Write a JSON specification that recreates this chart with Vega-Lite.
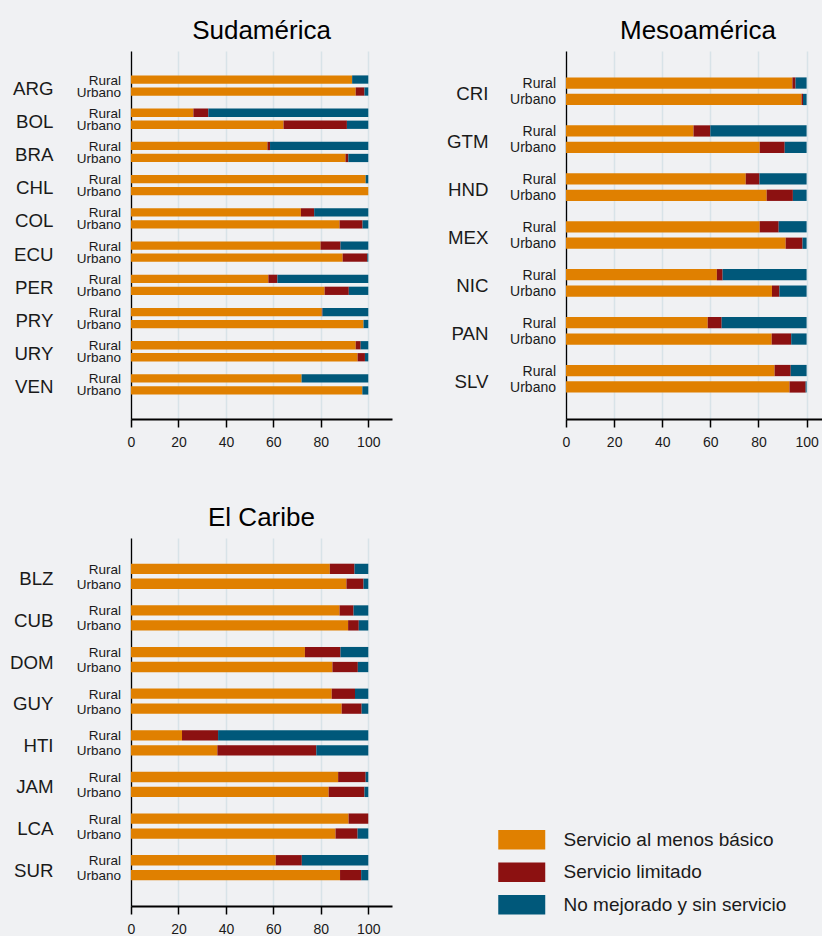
{
  "$schema": "https://vega.github.io/schema/vega-lite/v6.json",
  "background": "#f0f1f3",
  "padding": {"left": 9, "top": 18, "right": 0, "bottom": 0},
  "datasets": {
    "d": [
      {"r": "S", "p": "ARG", "a": "Rural", "b": 93.2, "l": 0, "n": 6.8},
      {"r": "S", "p": "ARG", "a": "Urbano", "b": 94.7, "l": 3.7, "n": 1.6},
      {"r": "S", "p": "BOL", "a": "Rural", "b": 26.3, "l": 6.3, "n": 67.4},
      {"r": "S", "p": "BOL", "a": "Urbano", "b": 64.3, "l": 26.7, "n": 9.0},
      {"r": "S", "p": "BRA", "a": "Rural", "b": 57.5, "l": 1.1, "n": 41.4},
      {"r": "S", "p": "BRA", "a": "Urbano", "b": 90.4, "l": 1.2, "n": 8.4},
      {"r": "S", "p": "CHL", "a": "Rural", "b": 98.9, "l": 0, "n": 1.1},
      {"r": "S", "p": "CHL", "a": "Urbano", "b": 100, "l": 0, "n": 0},
      {"r": "S", "p": "COL", "a": "Rural", "b": 71.6, "l": 5.6, "n": 22.8},
      {"r": "S", "p": "COL", "a": "Urbano", "b": 87.9, "l": 9.7, "n": 2.4},
      {"r": "S", "p": "ECU", "a": "Rural", "b": 79.9, "l": 8.4, "n": 11.7},
      {"r": "S", "p": "ECU", "a": "Urbano", "b": 89.2, "l": 10.4, "n": 0.4},
      {"r": "S", "p": "PER", "a": "Rural", "b": 57.9, "l": 3.8, "n": 38.3},
      {"r": "S", "p": "PER", "a": "Urbano", "b": 81.6, "l": 10.2, "n": 8.2},
      {"r": "S", "p": "PRY", "a": "Rural", "b": 80.4, "l": 0.3, "n": 19.3},
      {"r": "S", "p": "PRY", "a": "Urbano", "b": 98.0, "l": 0, "n": 2.0},
      {"r": "S", "p": "URY", "a": "Rural", "b": 94.7, "l": 2.1, "n": 3.2},
      {"r": "S", "p": "URY", "a": "Urbano", "b": 95.5, "l": 3.1, "n": 1.4},
      {"r": "S", "p": "VEN", "a": "Rural", "b": 71.9, "l": 0, "n": 28.1},
      {"r": "S", "p": "VEN", "a": "Urbano", "b": 97.5, "l": 0, "n": 2.5},
      {"r": "M", "p": "CRI", "a": "Rural", "b": 94.1, "l": 1.3, "n": 4.6},
      {"r": "M", "p": "CRI", "a": "Urbano", "b": 97.9, "l": 0.6, "n": 1.5},
      {"r": "M", "p": "GTM", "a": "Rural", "b": 53.0, "l": 7.0, "n": 40.0},
      {"r": "M", "p": "GTM", "a": "Urbano", "b": 80.5, "l": 10.4, "n": 9.1},
      {"r": "M", "p": "HND", "a": "Rural", "b": 74.7, "l": 5.7, "n": 19.6},
      {"r": "M", "p": "HND", "a": "Urbano", "b": 83.4, "l": 10.9, "n": 5.7},
      {"r": "M", "p": "MEX", "a": "Rural", "b": 80.5, "l": 7.9, "n": 11.6},
      {"r": "M", "p": "MEX", "a": "Urbano", "b": 91.3, "l": 7.0, "n": 1.7},
      {"r": "M", "p": "NIC", "a": "Rural", "b": 62.7, "l": 2.4, "n": 34.9},
      {"r": "M", "p": "NIC", "a": "Urbano", "b": 85.6, "l": 3.1, "n": 11.3},
      {"r": "M", "p": "PAN", "a": "Rural", "b": 58.9, "l": 5.8, "n": 35.3},
      {"r": "M", "p": "PAN", "a": "Urbano", "b": 85.5, "l": 8.1, "n": 6.4},
      {"r": "M", "p": "SLV", "a": "Rural", "b": 86.7, "l": 6.7, "n": 6.6},
      {"r": "M", "p": "SLV", "a": "Urbano", "b": 92.9, "l": 6.7, "n": 0.4},
      {"r": "C", "p": "BLZ", "a": "Rural", "b": 83.8, "l": 10.4, "n": 5.8},
      {"r": "C", "p": "BLZ", "a": "Urbano", "b": 90.8, "l": 7.2, "n": 2.0},
      {"r": "C", "p": "CUB", "a": "Rural", "b": 87.9, "l": 5.9, "n": 6.2},
      {"r": "C", "p": "CUB", "a": "Urbano", "b": 91.5, "l": 4.5, "n": 4.0},
      {"r": "C", "p": "DOM", "a": "Rural", "b": 73.3, "l": 15.0, "n": 11.7},
      {"r": "C", "p": "DOM", "a": "Urbano", "b": 84.9, "l": 10.7, "n": 4.4},
      {"r": "C", "p": "GUY", "a": "Rural", "b": 84.6, "l": 9.8, "n": 5.6},
      {"r": "C", "p": "GUY", "a": "Urbano", "b": 88.8, "l": 8.4, "n": 2.8},
      {"r": "C", "p": "HTI", "a": "Rural", "b": 21.5, "l": 15.2, "n": 63.3},
      {"r": "C", "p": "HTI", "a": "Urbano", "b": 36.4, "l": 41.7, "n": 21.9},
      {"r": "C", "p": "JAM", "a": "Rural", "b": 87.3, "l": 11.6, "n": 1.1},
      {"r": "C", "p": "JAM", "a": "Urbano", "b": 83.3, "l": 15.1, "n": 1.6},
      {"r": "C", "p": "LCA", "a": "Rural", "b": 91.7, "l": 8.3, "n": 0},
      {"r": "C", "p": "LCA", "a": "Urbano", "b": 86.2, "l": 9.3, "n": 4.5},
      {"r": "C", "p": "SUR", "a": "Rural", "b": 61.0, "l": 11.0, "n": 28.0},
      {"r": "C", "p": "SUR", "a": "Urbano", "b": 88.1, "l": 8.9, "n": 3.0}
    ]
  },
  "bounds": "flush",
  "columns": 2,
  "spacing": {"row": 119, "column": 174},
  "resolve": {"scale": {"yOffset": "independent"}},
  "concat": [
    {
      "width": 261, "height": 368,
      "data": {"name": "d"},
      "transform": [{"filter": "datum.r == 'S'"}],
      "title": {"text": "Sudamérica", "dx": 0},
      "layer": [
        {
          "transform": [{"fold": ["b", "l", "n"]}],
          "mark": {"type": "bar"},
          "encoding": {
            "y": {"field": "p", "type": "nominal", "sort": null, "scale": {"paddingInner": 0, "paddingOuter": 0.54}},
            "yOffset": {"field": "a", "type": "nominal", "scale": {"paddingInner": 0.31, "paddingOuter": 0.54}},
            "x": {"field": "value", "type": "quantitative", "scale": {"domain": [0, 110], "nice": false}},
            "color": {"field": "key", "type": "nominal"}
          }
        },
        {
          "mark": {"type": "text", "align": "right", "baseline": "middle", "dx": -10, "dy": 1, "fontSize": 13.5, "color": "#1a1a1a"},
          "encoding": {
            "y": {"field": "p", "type": "nominal", "sort": null},
            "yOffset": {"field": "a", "type": "nominal"},
            "x": {"datum": 0},
            "text": {"field": "a"}
          }
        }
      ]
    },
    {
      "width": 256, "height": 368,
      "data": {"name": "d"},
      "transform": [{"filter": "datum.r == 'M'"}],
      "title": {"text": "Mesoamérica", "dx": 4},
      "layer": [
        {
          "transform": [{"fold": ["b", "l", "n"]}],
          "mark": {"type": "bar"},
          "encoding": {
            "y": {"field": "p", "type": "nominal", "sort": null, "scale": {"paddingInner": 0, "paddingOuter": 0.34}},
            "yOffset": {"field": "a", "type": "nominal", "scale": {"paddingInner": 0.315, "paddingOuter": 0.615}},
            "x": {"field": "value", "type": "quantitative", "scale": {"domain": [0, 106.4], "nice": false}},
            "color": {"field": "key", "type": "nominal"}
          }
        },
        {
          "mark": {"type": "text", "align": "right", "baseline": "middle", "dx": -10, "dy": 1, "fontSize": 14, "color": "#1a1a1a"},
          "encoding": {
            "y": {"field": "p", "type": "nominal", "sort": null},
            "yOffset": {"field": "a", "type": "nominal"},
            "x": {"datum": 0},
            "text": {"field": "a"}
          }
        }
      ]
    },
    {
      "width": 261, "height": 368,
      "data": {"name": "d"},
      "transform": [{"filter": "datum.r == 'C'"}],
      "title": {"text": "El Caribe", "dx": 0},
      "layer": [
        {
          "transform": [{"fold": ["b", "l", "n"]}],
          "mark": {"type": "bar"},
          "encoding": {
            "y": {"field": "p", "type": "nominal", "sort": null, "scale": {"paddingInner": 0, "paddingOuter": 0.42}},
            "yOffset": {"field": "a", "type": "nominal", "scale": {"paddingInner": 0.31, "paddingOuter": 0.55}},
            "x": {"field": "value", "type": "quantitative", "scale": {"domain": [0, 110], "nice": false}},
            "color": {
              "field": "key", "type": "nominal",
              "scale": {"domain": ["b", "l", "n"], "range": ["#e08000", "#8c1111", "#00587a"]},
              "legend": {
                "orient": "none", "legendX": 378.75, "legendY": 776.75,
                "title": null,
                "symbolType": "M-2,-0.83H2V0.83H-2Z",
                "symbolSize": 552,
                "symbolStrokeWidth": 0,
                "symbolOpacity": 1,
                "labelFontSize": 19,
                "labelColor": "#1a1a1a",
                "labelOffset": 29.75,
                "labelLimit": 400,
                "rowPadding": 10.5,
                "labelExpr": "datum.label == 'b' ? 'Servicio al menos básico' : datum.label == 'l' ? 'Servicio limitado' : 'No mejorado y sin servicio'"
              }
            }
          }
        },
        {
          "mark": {"type": "text", "align": "right", "baseline": "middle", "dx": -10, "dy": 1, "fontSize": 13.5, "color": "#1a1a1a"},
          "encoding": {
            "y": {"field": "p", "type": "nominal", "sort": null},
            "yOffset": {"field": "a", "type": "nominal"},
            "x": {"datum": 0},
            "text": {"field": "a"}
          }
        }
      ]
    }
  ],
  "config": {
    "font": "Liberation Sans",
    "view": {"stroke": null},
    "title": {"fontSize": 26, "fontWeight": "normal", "color": "#000000", "anchor": "middle", "baseline": "alphabetic", "offset": 7},
    "axisY": {"title": null, "ticks": false, "labelPadding": 78, "labelOffset": 3, "labelFontSize": 18.7, "labelColor": "#1a1a1a", "domainColor": "#000000", "domainWidth": 1.3, "grid": false},
    "axisX": {"title": null, "values": [0, 20, 40, 60, 80, 100], "tickSize": 8, "tickColor": "#000000", "tickWidth": 1.5, "domainColor": "#000000", "domainWidth": 1.8, "labelFontSize": 14, "labelColor": "#1a1a1a", "labelPadding": 8, "labelFlush": false, "grid": true, "gridColor": "#d8e3e8", "gridWidth": 1.5}
  }
}
